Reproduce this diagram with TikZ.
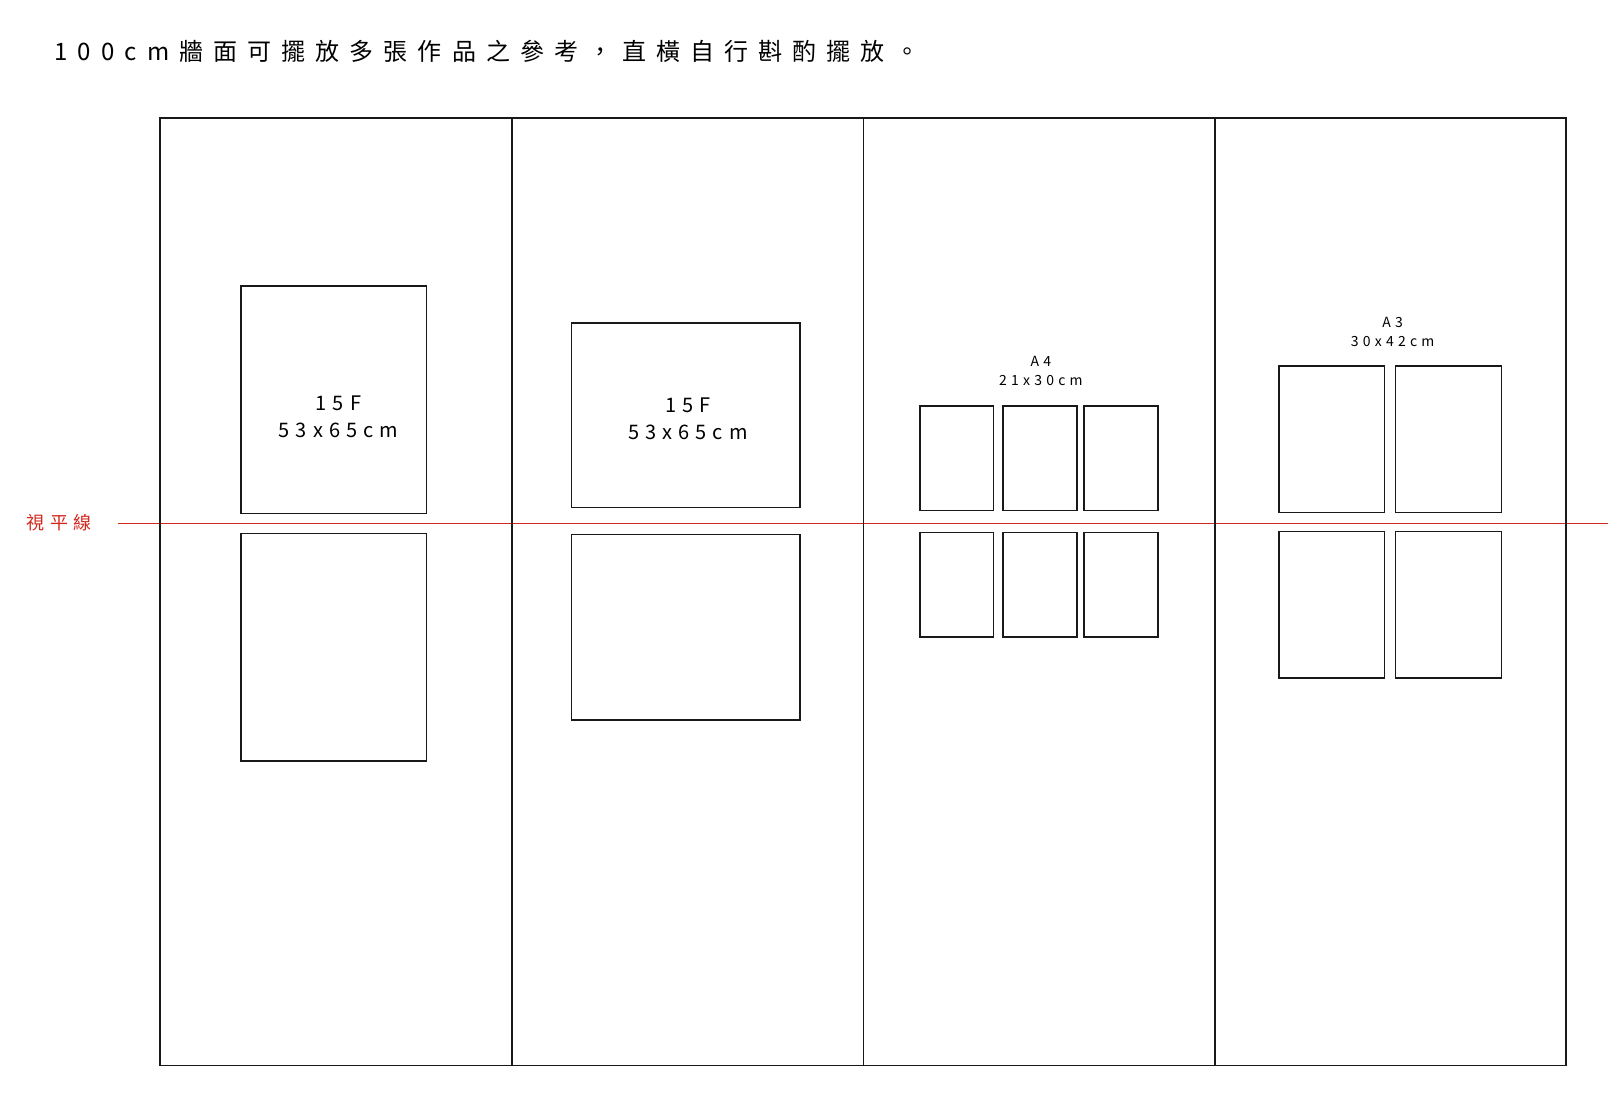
\documentclass[tikz,border=0pt]{standalone}
\usepackage{fontspec}
\setmainfont{Noto Sans CJK TC}[LetterSpace=30]
\definecolor{redline}{RGB}{210,40,30}
\begin{document}
\begin{tikzpicture}[x=1.0255pt,y=-1.0255pt,
  panel/.style={draw=black!90,line width=1.6pt},
  frame/.style={draw=black!90,line width=1.4pt},
  lbl/.style={align=center,inner sep=0pt,font=\fontsize{20}{27}\selectfont},
  slbl/.style={align=center,inner sep=0pt,font=\fontsize{14}{19}\selectfont}]
\useasboundingbox (0,0) rectangle (1568,1092);
\node[anchor=west,inner sep=0pt,font=\addfontfeature{LetterSpace=42}\fontsize{24}{28}\selectfont] (title) at (53,50) {100cm牆面可擺放多張作品之參考，直橫自行斟酌擺放。};
\draw[redline,line width=1pt] (115,510) coordinate (ls) -- (1568,510) coordinate (le);
\node[text=redline,anchor=west,inner sep=0pt,font=\fontsize{18}{22}\selectfont] (hl) at (26,510) {視平線};
\foreach \a/\b [count=\i] in {156/499,499/842,842/1185,1185/1527}
  \draw[panel] (\a,115) rectangle (\b,1039);
% panel 1
\draw[frame] (235,279) rectangle (416,501);
\draw[frame] (235,520) rectangle (416,742);
\node[lbl] (l1) at (330,406) {15F\\53x65cm};
% panel 2
\draw[frame] (557,315) rectangle (780,495);
\draw[frame] (557,521) rectangle (780,702);
\node[lbl] (l2) at (671,408) {15F\\53x65cm};
% panel 3
\foreach \a/\b in {897/969,978/1050,1057/1129}{
  \draw[frame] (\a,396) rectangle (\b,498);
  \draw[frame] (\a,519) rectangle (\b,621);}
\node[slbl] (l3) at (1015,362) {A4\\21x30cm};
% panel 4
\foreach \a/\b in {1247/1350,1361/1464}{
  \draw[frame] (\a,357) rectangle (\b,500);
  \draw[frame] (\a,518) rectangle (\b,661);}
\node[slbl] (l4) at (1358,324) {A3\\30x42cm};
\end{tikzpicture}
\end{document}
